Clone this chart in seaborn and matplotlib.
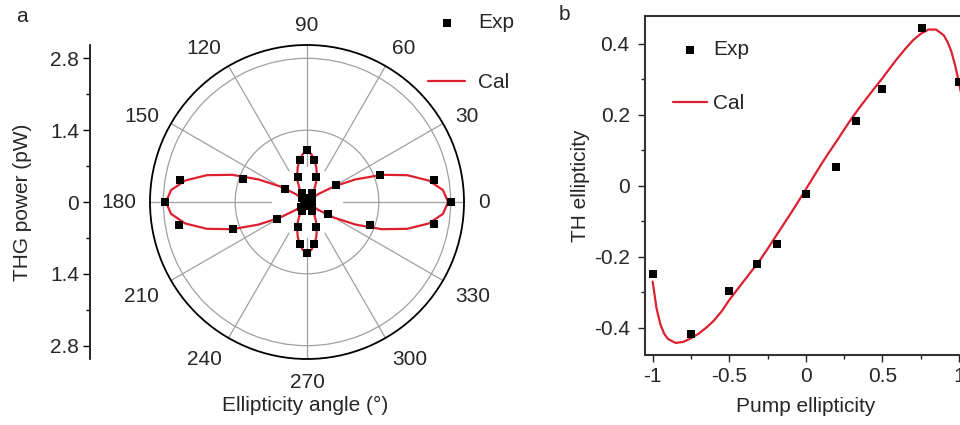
import numpy as np
import matplotlib
matplotlib.use("Agg")
import matplotlib.pyplot as plt
import seaborn as sns

# ---- panel a: THG power vs ellipticity angle (polar) ----
exp_angle = list(range(0, 360, 10))
exp_power = [2.81, 2.52, 1.52, 0.65, 0.12, 0.10, 0.20, 0.51, 0.83, 1.02,
             0.84, 0.52, 0.20, 0.10, 0.12, 0.50, 1.33, 2.52, 2.77, 2.54,
             1.54, 0.67, 0.14, 0.10, 0.20, 0.51, 0.83, 1.00, 0.83, 0.51,
             0.20, 0.10, 0.12, 0.47, 1.31, 2.51]
# calculated curve, read for one quadrant (0-90 deg), pattern is mirror symmetric
cal_angle_q = [0, 5, 10, 15, 20, 25, 30, 35, 40, 45, 50, 55, 60, 65, 70, 75, 80, 85, 90]
cal_power_q = [2.75, 2.66, 2.41, 2.02, 1.55, 1.04, 0.61, 0.27, 0.07, 0.0,
               0.04, 0.13, 0.28, 0.42, 0.56, 0.70, 0.83, 0.94, 0.99]
power_ticks = [-2.8, -1.4, 0, 1.4, 2.8]
power_ticklabels = ["2.8", "1.4", "0", "1.4", "2.8"]
power_minor = [-2.1, -0.7, 0.7, 2.1]
angle_ticks = [0, 30, 60, 90, 120, 150, 180, 210, 240, 270, 300, 330]
angle_minor = [15, 45, 75, 105, 135, 165, 195, 225, 255, 285, 315, 345]

# ---- panel b: TH ellipticity vs pump ellipticity ----
pump_exp = [-1, -0.75, -0.5, -0.32, -0.19, 0, 0.2, 0.33, 0.5, 0.76, 1]
th_exp = [-0.249, -0.419, -0.296, -0.221, -0.165, -0.024, 0.052, 0.183, 0.273, 0.443, 0.293]
pump_cal = [-1.0, -0.975, -0.95, -0.925, -0.9, -0.85, -0.8, -0.75, -0.7, -0.65,
            -0.6, -0.55, -0.5, -0.45, -0.4, -0.35, -0.3, -0.25, -0.2, -0.15,
            -0.1, -0.05, 0.0, 0.05, 0.1, 0.15, 0.2, 0.25, 0.3, 0.35,
            0.4, 0.45, 0.5, 0.55, 0.6, 0.65, 0.7, 0.75, 0.8, 0.85,
            0.9, 0.925, 0.95, 0.975, 1.0, 1.025]
th_cal = [-0.270, -0.345, -0.390, -0.417, -0.432, -0.443, -0.440, -0.430, -0.417, -0.400,
          -0.380, -0.354, -0.322, -0.294, -0.266, -0.238, -0.210, -0.178, -0.145, -0.112,
          -0.079, -0.045, -0.010, 0.025, 0.060, 0.093, 0.125, 0.158, 0.190, 0.220,
          0.248, 0.276, 0.303, 0.332, 0.360, 0.386, 0.410, 0.428, 0.440, 0.440,
          0.424, 0.405, 0.378, 0.338, 0.290, 0.235]
x_ticks = [-1, -0.5, 0, 0.5, 1]
x_ticklabels = ["-1", "-0.5", "0", "0.5", "1"]
x_minor = [-0.75, -0.25, 0.25, 0.75]
y_ticks = [-0.4, -0.2, 0, 0.2, 0.4]
y_ticklabels = ["-0.4", "-0.2", "0", "0.2", "0.4"]
y_minor = [-0.3, -0.1, 0.1, 0.3]

RED = "#dd2030"
GRID = "#a0a0a0"
FS = 15

sns.set_theme(style="ticks")
plt.rcParams["font.family"] = ["Liberation Sans", "DejaVu Sans"]
plt.rcParams["axes.unicode_minus"] = False
plt.rcParams["font.size"] = FS

W, H = 960, 425
fig = plt.figure(figsize=(W / 100, H / 100), dpi=100)

# full calculated curve from the quadrant via mirror symmetry
q_ang = np.array(cal_angle_q, dtype=float)
q_pow = np.array(cal_power_q, dtype=float)
half_ang = np.concatenate([q_ang, 180 - q_ang[::-1][1:]])
half_pow = np.concatenate([q_pow, q_pow[::-1][1:]])
cal_ang = np.concatenate([half_ang, 180 + half_ang[1:]])
cal_pow = np.concatenate([half_pow, half_pow[1:]])

rmax = 3.06
ax_a = fig.add_axes([150 / W, 66 / H, 314 / W, 314 / H], projection="polar")
sns.lineplot(x=np.deg2rad(cal_ang), y=cal_pow, sort=False, estimator=None,
             color=RED, lw=1.6, label="Cal", ax=ax_a, zorder=3)
sns.scatterplot(x=np.deg2rad(exp_angle), y=exp_power, marker="s", s=34,
                color="black", linewidth=0, label="Exp", ax=ax_a, zorder=4)
ax_a.set_xlabel("")
ax_a.set_ylabel("")
ax_a.set_rlim(0, rmax)
ax_a.set_yticks([1.4, 2.8])
ax_a.set_yticklabels([])
ax_a.yaxis.grid(True, color=GRID, lw=0.9)
ax_a.xaxis.grid(False)
for a in angle_ticks:
    ax_a.plot([np.deg2rad(a)] * 2, [0.7, rmax], color=GRID, lw=0.9, zorder=1)
ax_a.set_xticks(np.deg2rad(angle_ticks))
ax_a.set_xticklabels([str(a) for a in angle_ticks], fontsize=FS)
ax_a.set_xticks(np.deg2rad(angle_minor), minor=True)
ax_a.tick_params(axis="x", which="major", direction="out", length=5, width=1,
                 pad=-2, color="black")
ax_a.tick_params(axis="x", which="minor", direction="in", length=3, width=1,
                 color="black")
# anchor angle labels by their edge nearest the circle
for a, lab in zip(angle_ticks, ax_a.get_xticklabels()):
    c, s = np.cos(np.deg2rad(a)), np.sin(np.deg2rad(a))
    lab.set_ha("left" if c > 0.3 else ("right" if c < -0.3 else "center"))
    if s > 0.8:
        lab.set_va("baseline")
    elif s < -0.3:
        lab.set_va("top")
    else:
        lab.set_va("center")
ax_a.spines["polar"].set_color("black")
ax_a.spines["polar"].set_linewidth(1.3)
ax_a.set_facecolor("white")

hl = dict(zip(*ax_a.get_legend_handles_labels()[::-1]))
ax_a.legend([hl["Exp"], hl["Cal"]], ["Exp", "Cal"], loc="upper left",
            bbox_to_anchor=(428 / W, 1 - 13 / H), bbox_transform=fig.transFigure,
            frameon=False, fontsize=FS, handlelength=1.78, handletextpad=0.62,
            labelspacing=1.98, borderpad=0, borderaxespad=0)

# decorative radial scale on the left
ax_l = fig.add_axes([90 / W, 66 / H, 0.0001, 314 / H])
ax_l.set_ylim(-rmax, rmax)
ax_l.set_yticks(power_ticks, labels=power_ticklabels, fontsize=FS)
ax_l.set_yticks(power_minor, minor=True)
ax_l.set_xticks([])
for s in ["top", "right", "bottom"]:
    ax_l.spines[s].set_visible(False)
ax_l.spines["left"].set_color("black")
ax_l.spines["left"].set_linewidth(1.2)
ax_l.tick_params(axis="y", which="major", direction="out", length=5, width=1,
                 pad=3, color="black")
ax_l.tick_params(axis="y", which="minor", direction="out", length=3, width=1,
                 color="black")
ax_l.patch.set_visible(False)

fig.text(23 / W, 1 - 202 / H, "THG power (pW)", rotation=90, ha="center",
         va="center", fontsize=FS)
fig.text(305 / W, 1 - 405 / H, "Ellipticity angle (°)", ha="center",
         va="center", fontsize=FS)
fig.text(22 / W, 1 - 16 / H, "a", ha="center", va="center", fontsize=FS)
fig.text(564 / W, 1 - 15 / H, "b", ha="center", va="center", fontsize=FS)

# ---- panel b ----
ax_b = fig.add_axes([645 / W, 70 / H, 322 / W, 339.3 / H])
sns.lineplot(x=pump_cal, y=th_cal, sort=False, estimator=None, color=RED,
             lw=1.6, label="Cal", ax=ax_b, zorder=3)
sns.scatterplot(x=pump_exp, y=th_exp, marker="s", s=34, color="black",
                linewidth=0, label="Exp", ax=ax_b, zorder=4)
ax_b.set_xlim(-1.05, 1.052)
ax_b.set_ylim(-0.477, 0.479)
ax_b.set_xticks(x_ticks, labels=x_ticklabels, fontsize=FS)
ax_b.set_xticks(x_minor, minor=True)
ax_b.set_yticks(y_ticks, labels=y_ticklabels, fontsize=FS)
ax_b.set_yticks(y_minor, minor=True)
ax_b.tick_params(which="major", direction="out", length=5, width=1, color="#222222")
ax_b.tick_params(which="minor", direction="out", length=3, width=1, color="#222222")
ax_b.tick_params(axis="x", pad=4)
ax_b.tick_params(axis="y", pad=6)
for s in ax_b.spines.values():
    s.set_color("#333333")
    s.set_linewidth(1.5)
ax_b.set_xlabel("Pump ellipticity", fontsize=FS, labelpad=7.5)
ax_b.set_ylabel("TH ellipticity", fontsize=FS, labelpad=3)

hb = dict(zip(*ax_b.get_legend_handles_labels()[::-1]))
ax_b.legend([hb["Exp"], hb["Cal"]], ["Exp", "Cal"], loc="upper left",
            bbox_to_anchor=(673 / W, 1 - 40 / H), bbox_transform=fig.transFigure,
            frameon=False, fontsize=FS, handlelength=1.63, handletextpad=0.3,
            labelspacing=1.68, borderpad=0, borderaxespad=0)

fig.savefig("out.png", dpi=100)
